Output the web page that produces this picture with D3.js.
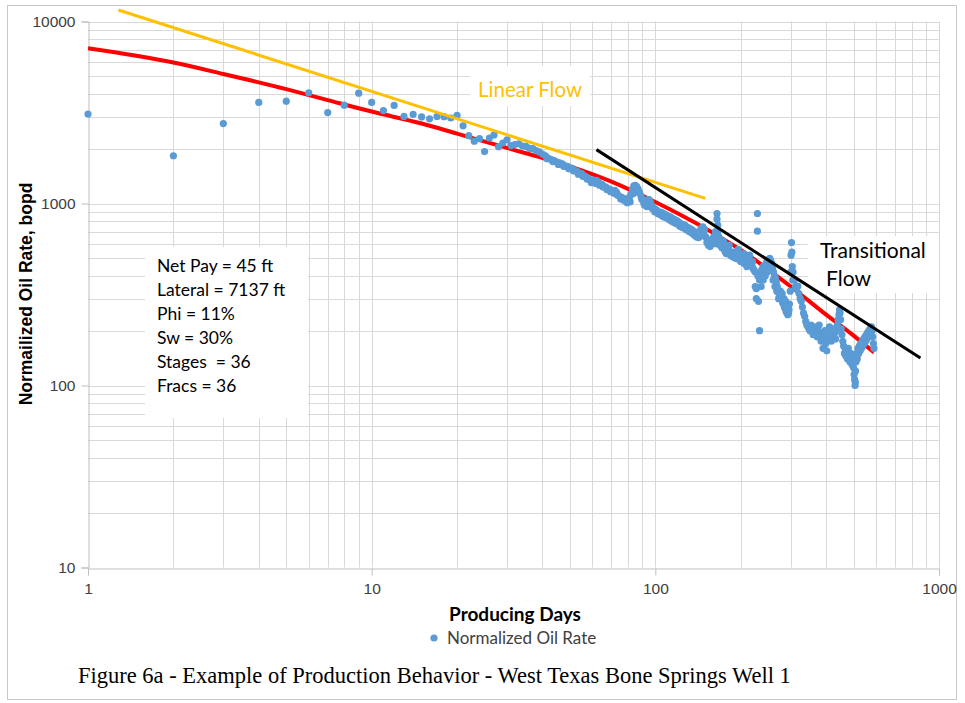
<!DOCTYPE html>
<html>
<head>
<meta charset="utf-8">
<script src="https://cdn.jsdelivr.net/npm/d3@7"></script>
<style>
  html, body { margin: 0; padding: 0; background: #fff; }
  svg { display: block; }
</style>
</head>
<body>
<svg id="chart" width="965" height="703"></svg>
<script>
// Daily normalized oil rate (bopd) by producing day
const days = [
  1,2,3,4,5,6,7,8,9,10,11,12,13,14,15,16,17,18,19,20,21,22,23,24,25,26,27,28,29,30,
  31,32,33,34,35,36,37,38,39,40,41,42,43,44,45,46,47,48,49,50,
  51,52,53,54,55,56,57,58,59,60,61,62,63,64,65,66,67,68,69,70,
  71,72,73,74,75,76,77,78,79,80,81,82,83,84,85,86,87,88,89,90,
  91,92,93,94,95,96,97,98,99,100,
  101,103,105,107,109,111,113,115,117,119,121,123,125,127,129,131,133,135,137,139,
  141,143,145,147,149,151,153,155,157,159,161,163,165,165,166,166,167,169,171,173,
  174,175,177,179,181,182,183,185,187,189,191,192,193,195,196,197,199,
  201,203,205,207,209,211,213,215,217,219,221,223,225,225,227,227,229,229,231,233,
  233,235,237,239,241,243,245,247,249,251,253,255,257,259,261,263,265,267,269,271,
  273,275,277,279,281,283,285,287,289,291,293,295,297,299,300,301,302,303,304,305,
  306,309,312,315,318,321,324,327,330,333,336,339,342,345,348,351,354,357,360,363,
  366,369,372,375,378,381,384,387,390,393,396,399,402,405,408,411,414,417,420,423,
  426,429,432,435,438,441,444,446,448,450,452,455,458,461,464,467,470,473,476,479,
  482,485,488,491,494,497,500,502,504,506,507,508,510,512,515,518,521,524,527,530,
  533,536,539,542,545,548,551,554,557,560,563,566,569,572,575,578,581,584,587,590,
  41.5,43.5,45.5,47.5,49.5,51.5,53.5,55.5,57.5,59.5,61.5,63.5,65.5,67.5,69.5,71.5,73.5,75.5,77.5,79.5,
  81.5,83.5,85.5,87.5,89.5,91.5,93.5,95.5,97.5,99.5,
  102,104,106,108,110,112,114,116,118,120,122,124,126,128,130,132,134,136,138,140,
  142,144,146,148,150,152,154,156,158,160,162,164,168,170,172,176,178,180,184,186,
  188,190,194,198,200,
  205,210,215,220,230,236,240,244,248,252,256,260,264,268,272,276,280,284,288,292,296
];
const oilRate = [
  3100,1830,2750,3590,3650,4060,3160,3470,4040,3590,3240,3460,3010,3090,2990,2920,3010,3000,2950,3050,2670,2360,2200,2270,1930,2290,2380,2050,2150,2240,
  2080,2110,2130,2070,2060,2010,2000,1950,1920,1870,1830,1770,1740,1720,1690,1670,1650,1610,1600,1570,
  1560,1520,1500,1470,1460,1420,1400,1370,1340,1350,1330,1340,1310,1280,1270,1240,1230,1200,1200,1180,
  1170,1180,1150,1110,1090,1080,1070,1050,1040,1050,1080,1130,1200,1250,1260,1240,1200,1150,1100,1050,
  1010,1000,1010,1050,1050,1020,980,950,940,930,
  920,900,895,880,865,850,845,830,815,805,790,775,765,760,745,735,725,715,700,690,
  680,700,730,745,720,650,625,605,620,640,660,700,880,820,760,700,660,640,610,590,
  620,575,560,565,555,590,545,540,535,540,530,500,525,530,560,520,515,
  520,505,530,495,480,500,470,475,455,460,440,430,420,350,340,300,881,705,290,200,
  380,410,430,440,455,430,460,480,470,490,500,485,470,440,420,400,390,370,350,330,
  320,310,300,295,285,280,270,265,255,250,245,250,280,330,420,520,610,540,450,380,
  420,380,350,340,352,320,300,290,270,250,240,225,215,210,205,200,215,200,190,210,
  195,205,185,200,215,195,175,190,160,185,200,170,155,180,200,210,190,175,190,205,
  185,195,180,200,215,230,245,260,250,230,205,190,175,165,150,160,145,155,140,160,
  150,135,150,140,130,145,125,115,108,100,104,120,135,150,140,160,150,165,155,170,
  160,175,165,180,170,185,175,190,180,195,185,200,190,205,195,210,200,185,170,160,
  1760,1700,1640,1600,1550,1510,1450,1410,1360,1300,1290,1260,1230,1190,1160,1140,1110,1060,1040,1010,
  1020,1130,1190,1150,1060,980,960,1000,940,900,
  880,870,850,840,830,815,800,790,780,770,750,740,735,720,710,700,690,680,665,655,
  650,660,680,690,660,610,590,580,600,615,630,600,600,585,570,545,530,540,520,515,
  510,505,500,490,480,
  470,450,520,480,400,350,380,400,420,450,430,380,350,330,300,330,320,300,290,270,260
];

// Decline-curve fit drawn through the data
const fitDays = [1, 2, 3, 5, 7, 10, 15, 20, 30, 50, 70, 100, 150, 200, 300, 400, 500, 590];
const fitRates = [7130, 5950, 5150, 4250, 3700, 3200, 2750, 2420, 2020, 1600, 1320, 1020, 730, 555, 350, 245, 188, 152];

// Flow-regime guide lines (end points)
const linearFlowDays = [1.28, 150];
const linearFlowRates = [11560, 1067];
const transFlowDays = [62, 860];
const transFlowRates = [1977, 141.5];

// Axis ticks
const xTicks = [1, 10, 100, 1000];
const yTicks = [10, 100, 1000, 10000];

const wellInfo = [
  "Net Pay = 45 ft",
  "Lateral = 7137 ft",
  "Phi = 11%",
  "Sw = 30%",
  "Stages  = 36",
  "Fracs = 36"
];

const svg = d3.select("#chart");
const W = 965, H = 703;

svg.append("rect").attr("x", 0).attr("y", 0).attr("width", W).attr("height", H).attr("fill", "#fff");
svg.append("rect").attr("x", 7.5).attr("y", 5.5).attr("width", 949).attr("height", 694)
  .attr("fill", "none").attr("stroke", "#c8c8c8").attr("stroke-width", 1);

const x = d3.scaleLog().domain([1, 1000]).range([88, 939]);
const y = d3.scaleLog().domain([10, 10000]).range([567.5, 21.5]);

// Minor + major grid
const xGrid = [];
for (let e = 0; e < 3; e++) for (let k = 1; k <= 9; k++) xGrid.push(k * Math.pow(10, e));
xGrid.push(1000);
const yGrid = [];
for (let e = 1; e < 4; e++) for (let k = 1; k <= 9; k++) yGrid.push(k * Math.pow(10, e));
yGrid.push(10000);

const grid = svg.append("g").attr("stroke", "#d9d9d9").attr("stroke-width", 1);
grid.selectAll("line.gx").data(xGrid.filter(d => d > 1)).join("line")
  .attr("x1", d => Math.round(x(d)) + 0.5).attr("x2", d => Math.round(x(d)) + 0.5)
  .attr("y1", y(10000)).attr("y2", y(10));
grid.selectAll("line.gy").data(yGrid.filter(d => d > 10)).join("line")
  .attr("y1", d => Math.round(y(d)) + 0.5).attr("y2", d => Math.round(y(d)) + 0.5)
  .attr("x1", x(1)).attr("x2", x(1000));

// Axes
const fmt = d3.format("d");
const yAxis = svg.append("g").attr("transform", `translate(${Math.round(x(1)) + 0.5},0)`)
  .call(d3.axisLeft(y).tickValues(yTicks).tickFormat(fmt).tickSize(7).tickPadding(6));
const xAxis = svg.append("g").attr("transform", `translate(0,${Math.round(y(10)) + 0.5})`)
  .call(d3.axisBottom(x).tickValues(xTicks).tickFormat(fmt).tickSize(7).tickPadding(7));
[xAxis, yAxis].forEach(a => {
  a.select(".domain").attr("stroke", "#bfbfbf");
  a.selectAll(".tick line").attr("stroke", "#bfbfbf");
  a.selectAll(".tick text").attr("fill", "#404040")
    .style("font-family", "'Liberation Sans', Arial, sans-serif").style("font-size", "15.5px");
});

// Label boxes (opaque, hide the grid behind them)
svg.append("rect").attr("x", 145).attr("y", 247).attr("width", 163).attr("height", 171).attr("fill", "#fff");
svg.append("rect").attr("x", 470).attr("y", 66).attr("width", 120).attr("height", 40).attr("fill", "#fff");
svg.append("rect").attr("x", 808).attr("y", 236).attr("width", 131).attr("height", 57).attr("fill", "#fff");

// Fit curve
const fitPts = fitDays.map((d, i) => [d, fitRates[i]]);
svg.append("path").datum(fitPts)
  .attr("fill", "none").attr("stroke", "#ff0000").attr("stroke-width", 4)
  .attr("d", d3.line().x(d => x(d[0])).y(d => y(d[1])).curve(d3.curveMonotoneX));

// Data points
const pts = days.map((d, i) => [d, oilRate[i]]);
svg.append("g").selectAll("circle").data(pts).join("circle")
  .attr("cx", d => x(d[0])).attr("cy", d => y(d[1])).attr("r", 3.6)
  .attr("fill", "#5b9bd5");

// Guide lines
const seg = d3.line().x(d => x(d[0])).y(d => y(d[1]));
svg.append("path").datum(linearFlowDays.map((d, i) => [d, linearFlowRates[i]]))
  .attr("fill", "none").attr("stroke", "#ffc000").attr("stroke-width", 3).attr("d", seg);
svg.append("path").datum(transFlowDays.map((d, i) => [d, transFlowRates[i]]))
  .attr("fill", "none").attr("stroke", "#000").attr("stroke-width", 3).attr("d", seg);

// Annotations
const sans = "Lato, 'Open Sans', sans-serif";
svg.append("text").attr("x", 478).attr("y", 97).text("Linear Flow")
  .attr("fill", "#ffc000").style("font-family", sans).style("font-size", "20.5px");
svg.append("text").attr("x", 820).attr("y", 258).text("Transitional")
  .attr("fill", "#000").style("font-family", sans).style("font-size", "21px");
svg.append("text").attr("x", 826).attr("y", 286).text("Flow")
  .attr("fill", "#000").style("font-family", sans).style("font-size", "21px");

svg.append("g").selectAll("text").data(wellInfo).join("text")
  .attr("x", 157).attr("y", (d, i) => 272 + i * 24)
  .style("white-space", "pre")
  .style("font-family", sans).style("font-size", "17.5px").attr("fill", "#000")
  .text(d => d);

// Axis titles
svg.append("text").attr("transform", "translate(32,294) rotate(-90)")
  .attr("text-anchor", "middle")
  .style("font-family", "'Liberation Sans', Arial, sans-serif").style("font-size", "17.5px").style("font-weight", "bold")
  .attr("fill", "#000").text("Normailized Oil Rate, bopd");
svg.append("text").attr("x", 515).attr("y", 621).attr("text-anchor", "middle")
  .style("font-family", sans).style("font-size", "19px").style("font-weight", "bold")
  .attr("fill", "#000").text("Producing Days");

// Legend
svg.append("circle").attr("cx", 434).attr("cy", 638).attr("r", 3.6).attr("fill", "#5b9bd5");
svg.append("text").attr("x", 447).attr("y", 644)
  .style("font-family", sans).style("font-size", "17px").attr("fill", "#404040")
  .text("Normalized Oil Rate");

// Caption
svg.append("text").attr("x", 78).attr("y", 683)
  .style("font-family", "'Liberation Serif', 'Times New Roman', serif").style("font-size", "22.5px")
  .attr("fill", "#000")
  .text("Figure 6a - Example of Production Behavior - West Texas Bone Springs Well 1");
</script>
</body>
</html>
